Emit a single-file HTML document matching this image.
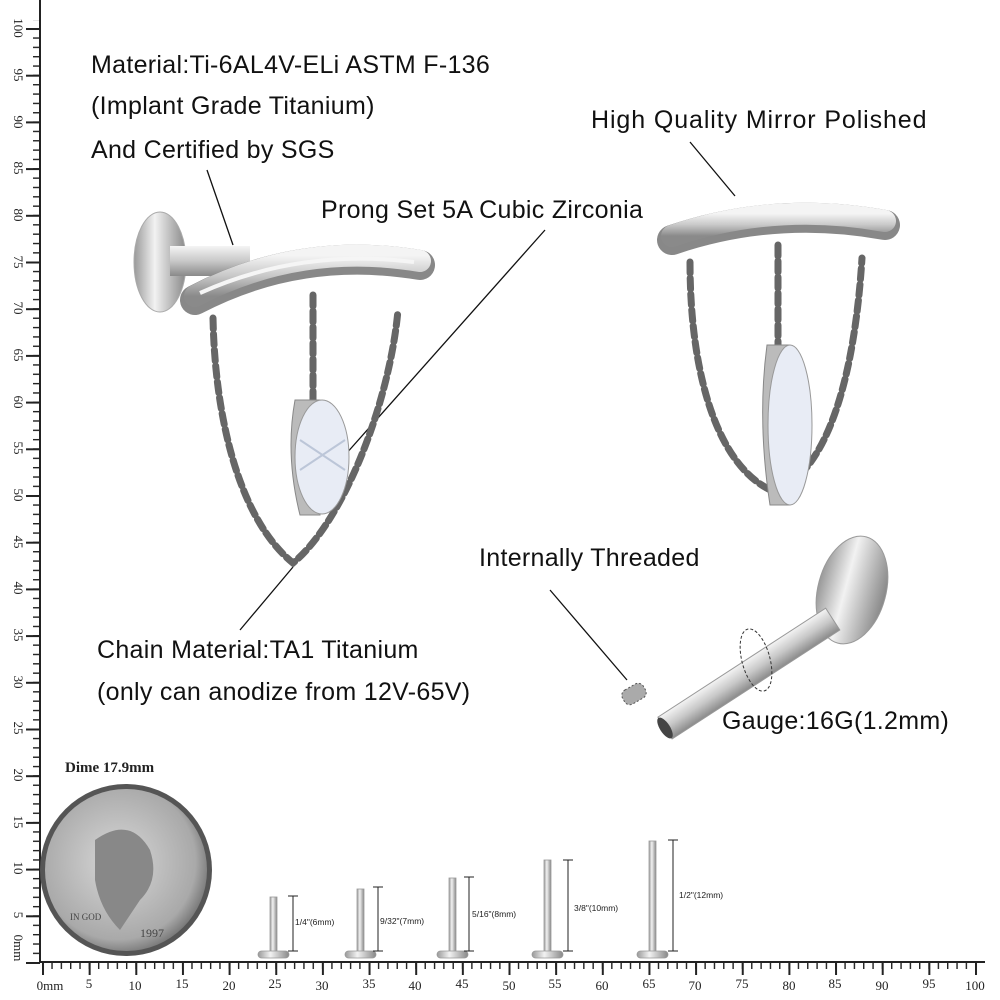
<!DOCTYPE html>
<html><head><meta charset="utf-8"><style>
html,body{margin:0;padding:0;background:#fff}
svg{display:block}
.t{font-family:"Liberation Sans",sans-serif;font-size:25px;letter-spacing:0.3px;fill:#111}
.s{font-family:"Liberation Serif",serif;font-size:13px;fill:#222}
.d{font-family:"Liberation Sans",sans-serif;font-size:8.5px;fill:#222}
</style></head><body>
<svg width="1000" height="1000" viewBox="0 0 1000 1000" xmlns="http://www.w3.org/2000/svg">
<defs>
<pattern id="hx" x="42" y="0" width="9.33" height="1000" patternUnits="userSpaceOnUse"><rect x="0" y="962" width="1.4" height="7" fill="#222"/></pattern>
<pattern id="hX" x="42" y="0" width="46.65" height="1000" patternUnits="userSpaceOnUse"><rect x="0" y="962" width="2" height="13" fill="#222"/></pattern>
<pattern id="vy" x="0" y="962" width="1000" height="9.34" patternUnits="userSpaceOnUse"><rect x="33" y="0" width="7" height="1.4" fill="#222"/></pattern>
<pattern id="vY" x="0" y="962" width="1000" height="46.7" patternUnits="userSpaceOnUse"><rect x="26" y="0" width="14" height="2" fill="#222"/></pattern>
<linearGradient id="met" x1="0" y1="0" x2="0" y2="1"><stop offset="0" stop-color="#f4f4f4"/><stop offset=".5" stop-color="#c8c8c8"/><stop offset="1" stop-color="#8a8a8a"/></linearGradient>
<linearGradient id="metx" x1="0" y1="0" x2="1" y2="0"><stop offset="0" stop-color="#999"/><stop offset=".4" stop-color="#f2f2f2"/><stop offset="1" stop-color="#888"/></linearGradient>
<radialGradient id="coin" cx=".45" cy=".45" r=".6"><stop offset="0" stop-color="#d8d8d8"/><stop offset=".8" stop-color="#a9a9a9"/><stop offset="1" stop-color="#6a6a6a"/></radialGradient>
</defs>
<rect x="42" y="0" width="940" height="1000" fill="url(#hx)"/>
<rect x="42" y="0" width="940" height="1000" fill="url(#hX)"/>
<rect x="0" y="20" width="60" height="944" fill="url(#vy)"/>
<rect x="0" y="20" width="60" height="944" fill="url(#vY)"/>
<rect x="40" y="961" width="945" height="2" fill="#222"/>
<rect x="39" y="0" width="2" height="963" fill="#222"/>
<g class="s" text-anchor="middle">
<text x="50" y="990">0mm</text><text x="89" y="988">5</text><text x="135" y="990">10</text><text x="182" y="988">15</text><text x="229" y="990">20</text><text x="275" y="988">25</text><text x="322" y="990">30</text><text x="369" y="988">35</text><text x="415" y="990">40</text><text x="462" y="988">45</text><text x="509" y="990">50</text><text x="555" y="988">55</text><text x="602" y="990">60</text><text x="649" y="988">65</text><text x="695" y="990">70</text><text x="742" y="988">75</text><text x="789" y="990">80</text><text x="835" y="988">85</text><text x="882" y="990">90</text><text x="929" y="988">95</text><text x="975" y="990">100</text>
</g>
<g class="s" text-anchor="middle">
<text transform="translate(14,948) rotate(90)">0mm</text>
<text transform="translate(14,915) rotate(90)">5</text>
<text transform="translate(14,868) rotate(90)">10</text>
<text transform="translate(14,822) rotate(90)">15</text>
<text transform="translate(14,775) rotate(90)">20</text>
<text transform="translate(14,728) rotate(90)">25</text>
<text transform="translate(14,682) rotate(90)">30</text>
<text transform="translate(14,635) rotate(90)">35</text>
<text transform="translate(14,588) rotate(90)">40</text>
<text transform="translate(14,542) rotate(90)">45</text>
<text transform="translate(14,495) rotate(90)">50</text>
<text transform="translate(14,448) rotate(90)">55</text>
<text transform="translate(14,402) rotate(90)">60</text>
<text transform="translate(14,355) rotate(90)">65</text>
<text transform="translate(14,308) rotate(90)">70</text>
<text transform="translate(14,262) rotate(90)">75</text>
<text transform="translate(14,215) rotate(90)">80</text>
<text transform="translate(14,168) rotate(90)">85</text>
<text transform="translate(14,122) rotate(90)">90</text>
<text transform="translate(14,75) rotate(90)">95</text>
<text transform="translate(14,28) rotate(90)">100</text>
</g>
<text class="t" x="91" y="73">Material:Ti-6AL4V-ELi ASTM F-136</text>
<text class="t" x="91" y="114">(Implant Grade Titanium)</text>
<text class="t" x="91" y="158">And Certified by SGS</text>
<text class="t" x="591" y="128" style="letter-spacing:0.9px">High Quality Mirror Polished</text>
<text class="t" x="321" y="218">Prong Set 5A Cubic Zirconia</text>
<text class="t" x="479" y="566">Internally Threaded</text>
<text class="t" x="97" y="658">Chain Material:TA1 Titanium</text>
<text class="t" x="97" y="700">(only can anodize from 12V-65V)</text>
<text class="t" x="722" y="729">Gauge:16G(1.2mm)</text>
<text x="65" y="772" style="font-family:'Liberation Serif',serif;font-size:15px;font-weight:bold;fill:#222">Dime 17.9mm</text>
<g stroke="#111" stroke-width="1.3" fill="none">
<line x1="207" y1="170" x2="233" y2="245"/>
<line x1="690" y1="142" x2="735" y2="196"/>
<line x1="545" y1="230" x2="345" y2="455"/>
<line x1="293" y1="567" x2="240" y2="630"/>
<line x1="550" y1="590" x2="627" y2="680"/>
</g>
<ellipse cx="160" cy="262" rx="26" ry="50" fill="url(#metx)" stroke="#aaa"/>
<rect x="170" y="246" width="80" height="30" fill="url(#met)"/>
<g fill="none" stroke-linecap="round">
<path d="M213 318 C215 420 240 520 293 563 C345 520 390 400 398 310" stroke="#666" stroke-width="7" stroke-dasharray="11 5"/>
<path d="M313 295 L313 400" stroke="#666" stroke-width="7" stroke-dasharray="11 5"/>
</g>
<path d="M195 300 Q300 245 420 265" stroke="#888" stroke-width="30" fill="none" stroke-linecap="round"/>
<path d="M195 296 Q300 241 420 261" stroke="url(#met)" stroke-width="22" fill="none" stroke-linecap="round"/>
<path d="M200 293 Q300 248 414 262" stroke="#f5f5f5" stroke-width="4" fill="none"/>
<path d="M295 400 Q285 455 300 515 L320 515 L320 400 Z" fill="#bbb" stroke="#888"/>
<ellipse cx="322" cy="457" rx="27" ry="57" fill="#e8ecf5" stroke="#999"/>
<path d="M300 440 L345 470 M300 470 L345 440" stroke="#bcc6d8" stroke-width="2"/>
<g fill="none" stroke-linecap="round">
<path d="M690 262 C690 380 720 470 775 492 C830 470 855 370 862 258" stroke="#666" stroke-width="7" stroke-dasharray="11 5"/>
<path d="M778 245 L778 345" stroke="#666" stroke-width="7" stroke-dasharray="11 5"/>
</g>
<path d="M672 240 Q775 205 885 225" stroke="#888" stroke-width="30" fill="none" stroke-linecap="round"/>
<path d="M672 236 Q775 201 885 221" stroke="url(#met)" stroke-width="22" fill="none" stroke-linecap="round"/>
<path d="M767 345 Q757 420 770 505 L790 505 L790 345 Z" fill="#bbb" stroke="#888"/>
<ellipse cx="790" cy="425" rx="22" ry="80" fill="#e8ecf5" stroke="#999"/>
<ellipse cx="852" cy="590" rx="34" ry="55" fill="url(#metx)" stroke="#999" transform="rotate(15 852 590)"/>
<g transform="translate(665,728) rotate(-33)">
<rect x="0" y="-13" width="200" height="26" fill="url(#met)" stroke="#999"/>
<ellipse cx="0" cy="0" rx="5" ry="12" fill="#444"/>
</g>
<ellipse cx="756" cy="660" rx="14" ry="32" fill="none" stroke="#333" stroke-dasharray="3 2" transform="rotate(-15 756 660)"/>
<g transform="translate(634,694) rotate(-30)"><rect x="-12" y="-8" width="24" height="16" rx="6" fill="#aaa" stroke="#555" stroke-dasharray="2 2"/></g>
<circle cx="126" cy="870" r="86" fill="#555"/>
<circle cx="126" cy="870" r="81" fill="url(#coin)"/>
<path d="M95 840 Q130 815 150 850 Q160 880 140 900 L120 930 Q100 910 95 880 Z" fill="#888"/>
<text x="70" y="920" style="font-family:'Liberation Serif',serif;font-size:9px;fill:#444">IN GOD</text>
<text x="140" y="937" style="font-family:'Liberation Serif',serif;font-size:12px;fill:#444">1997</text>
<g fill="url(#metx)" stroke="#999" stroke-width=".8">
<rect x="270" y="897" width="7" height="55"/><rect x="357" y="889" width="7" height="63"/><rect x="449" y="878" width="7" height="74"/><rect x="544" y="860" width="7" height="92"/><rect x="649" y="841" width="7" height="111"/>
<rect x="258" y="951" width="31" height="7" rx="3.5"/><rect x="345" y="951" width="31" height="7" rx="3.5"/><rect x="437" y="951" width="31" height="7" rx="3.5"/><rect x="532" y="951" width="31" height="7" rx="3.5"/><rect x="637" y="951" width="31" height="7" rx="3.5"/>
</g>
<g stroke="#222" stroke-width="1">
<path d="M293 896V951M288 896H298M288 951H298"/>
<path d="M378 887V951M373 887H383M373 951H383"/>
<path d="M469 877V951M464 877H474M464 951H474"/>
<path d="M568 860V951M563 860H573M563 951H573"/>
<path d="M673 840V951M668 840H678M668 951H678"/>
</g>
<text class="d" x="295" y="925">1/4"(6mm)</text>
<text class="d" x="380" y="924">9/32"(7mm)</text>
<text class="d" x="472" y="917">5/16"(8mm)</text>
<text class="d" x="574" y="911">3/8"(10mm)</text>
<text class="d" x="679" y="898">1/2"(12mm)</text>
</svg>
</body></html>
